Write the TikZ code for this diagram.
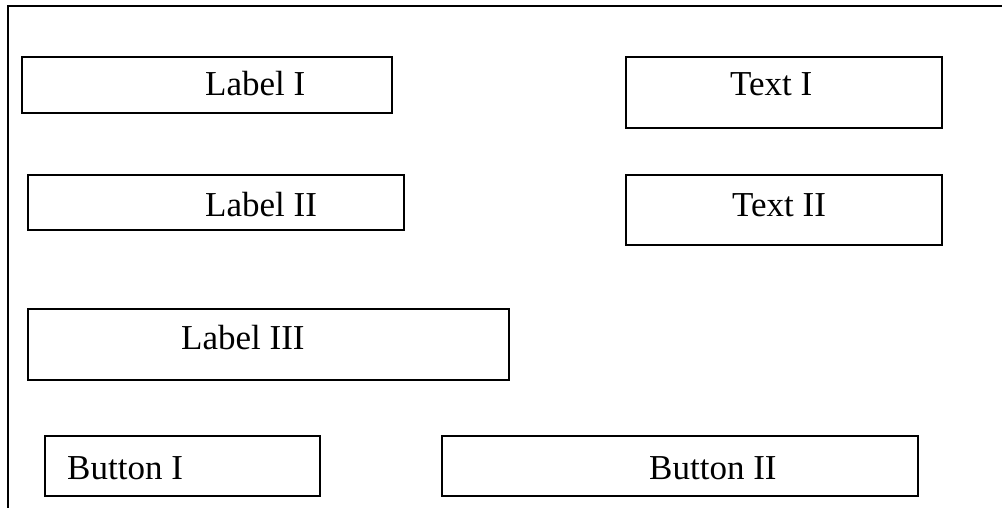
\documentclass[tikz,border=0pt]{standalone}
\usepackage{fontspec}
\setmainfont{Liberation Serif}
\begin{document}
\begin{tikzpicture}[x=1pt,y=-1pt,
  frame/.style={line width=2pt,black},
  widget/.style={draw=black,line width=2pt,fill=none},
  caption/.style={anchor=base west,inner sep=0pt,font=\fontsize{35}{40}\selectfont}]
\useasboundingbox (0,0) rectangle (1002,508);
% window outline (top and left edges)
\coordinate (cornerTR) at (1002,6);
\coordinate (corner) at (8,6);
\coordinate (cornerBL) at (8,508);
\draw[frame] (cornerTR) -- (corner) -- (cornerBL);
% form widgets
\draw[widget] (22,57) rectangle (392,113) coordinate (labelI);
\draw[widget] (626,57) rectangle (942,128) coordinate (textI);
\draw[widget] (28,175) rectangle (404,230) coordinate (labelII);
\draw[widget] (626,175) rectangle (942,245) coordinate (textII);
\draw[widget] (28,309) rectangle (509,380) coordinate (labelIII);
\draw[widget] (45,436) rectangle (320,496) coordinate (buttonI);
\draw[widget] (442,436) rectangle (918,496) coordinate (buttonII);
% captions
\node[caption] (tLabelI) at (205,96) {Label I};
\node[caption] (tTextI) at (730,96) {Text I};
\node[caption] (tLabelII) at (205,216) {Label II};
\node[caption] (tTextII) at (732,216) {Text II};
\node[caption] (tLabelIII) at (181,349) {Label III};
\node[caption] (tButtonI) at (67,479) {Button I};
\node[caption] (tButtonII) at (649,479) {Button II};
\end{tikzpicture}
\end{document}
